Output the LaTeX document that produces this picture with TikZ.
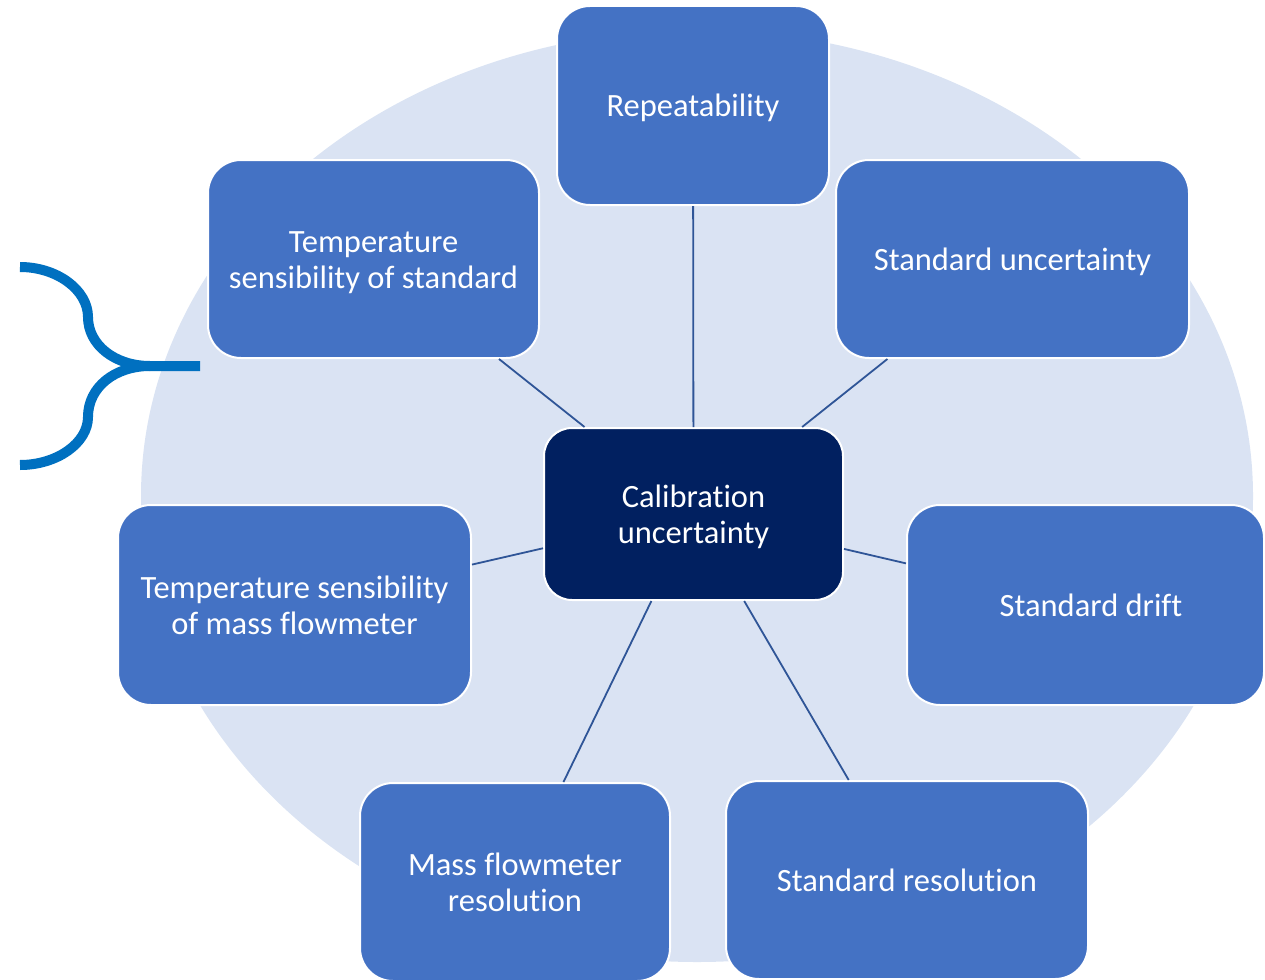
\documentclass[tikz,border=0pt]{standalone}
\usepackage{fontspec}
\setmainfont{Carlito}[Ligatures=NoCommon]
\definecolor{haze}{HTML}{DAE3F3}
\definecolor{boxblue}{HTML}{4472C4}
\definecolor{navy}{HTML}{012060}
\definecolor{linkblue}{HTML}{2F5597}
\definecolor{bracketblue}{HTML}{0070C0}
% centred label block of zero height, nudged by (#1 horizontal, #2 downward)
\newcommand{\lbl}[3]{\hspace*{#1}\raisebox{-#2}[0pt][0pt]{\begin{tabular}{@{}c@{}}#3\end{tabular}}}
\begin{document}
\begin{tikzpicture}[x=1pt,y=-1pt,
  factor/.style={draw=white,line width=2pt,fill=boxblue,rounded corners=33pt,
    text=white,inner sep=0pt,minimum height=198pt,
    font=\fontsize{32.5}{35.75}\selectfont},
  hub/.style={factor,fill=navy,rounded corners=28pt,minimum height=172pt},
  link/.style={draw=linkblue,line width=1.8pt}]
\useasboundingbox (0,0) rectangle (1265,979);
% background disc
\fill[haze] (697,496) ellipse [x radius=556pt, y radius=466pt];
% curly bracket on the left
\draw[bracketblue,line width=10pt]
  (20,267) .. controls (57,267) and (88,290) .. (88,317)
  .. controls (88,345) and (115,366) .. (150,366) -- (200,366);
\draw[bracketblue,line width=10pt]
  (150,366) .. controls (115,366) and (88,387) .. (88,417)
  .. controls (88,443) and (57,465) .. (20,465);
% central node and the contributing factors
\node[hub,minimum width=299pt] (cal) at (693.5,514) {\lbl{0pt}{10.3pt}{Calibration\\uncertainty}};
\node[factor,minimum width=272pt,minimum height=199pt] (rep) at (693,105.5) {\lbl{0pt}{10.3pt}{Repeatability}};
\node[factor,minimum width=331pt] (tstd) at (373.5,259) {\lbl{0pt}{10.3pt}{Temperature\\sensibility of standard}};
\node[factor,minimum width=353pt] (sunc) at (1012.5,259) {\lbl{0pt}{10.3pt}{Standard uncertainty}};
\node[factor,minimum width=353pt,minimum height=200pt] (tmass) at (294.5,605) {\lbl{0pt}{10.3pt}{Temperature sensibility\\of mass flowmeter}};
\node[factor,minimum width=357pt,minimum height=200pt] (sdrift) at (1085.5,605) {\lbl{11pt}{10.3pt}{Standard drift}};
\node[factor,minimum width=310pt] (mres) at (515,882) {\lbl{0pt}{10.3pt}{Mass flowmeter\\resolution}};
\node[factor,minimum width=362pt] (sres) at (907,880) {\lbl{0pt}{10.3pt}{Standard resolution}};
% spokes
\foreach \n in {rep,tstd,sunc,tmass,sdrift,mres,sres}
  \draw[link] (cal) -- (\n);
\end{tikzpicture}
\end{document}
